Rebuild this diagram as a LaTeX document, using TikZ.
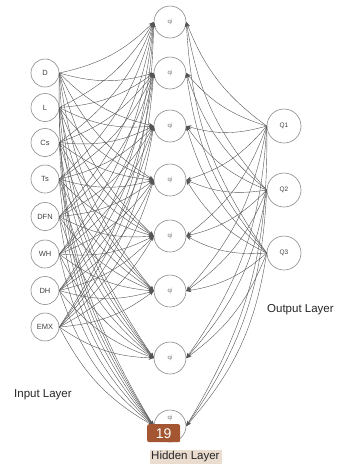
\documentclass[tikz,border=0pt]{standalone}
\usepackage{fontspec}
\setmainfont{Liberation Sans}
\usetikzlibrary{arrows.meta}
\definecolor{edgecol}{HTML}{555555}
\definecolor{circcol}{HTML}{8A8A8A}
\definecolor{badge}{HTML}{A35631}
\definecolor{beige}{HTML}{EBDCD0}
\tikzset{
  inp/.style={circle,draw=circcol,line width=0.6pt,minimum size=28pt,inner sep=0pt,font=\fontsize{7.5}{8}\selectfont,text=black!75},
  hid/.style={circle,draw=circcol,line width=0.6pt,minimum size=32pt,inner sep=0pt,font=\fontsize{6}{7}\selectfont,text=black!55},
  hidtxt/.style={inner sep=0pt,font=\fontsize{6}{7}\selectfont,text=black!55},
  outn/.style={circle,draw=circcol,line width=0.6pt,minimum size=34pt,inner sep=0pt,font=\fontsize{6.5}{7}\selectfont,text=black!75},
  edge/.style={draw=edgecol,line width=0.4pt,-{Stealth[length=5pt,width=4pt]}},
  lay/.style={font=\fontsize{11.5}{13}\selectfont,text=black!85,inner sep=0pt},
}
\begin{document}
\begin{tikzpicture}[x=1pt,y=-1pt]
\useasboundingbox (0,0) rectangle (337,464);
% input layer
\foreach \n/\y/\t in {1/73/D,2/107.5/L,3/142.5/Cs,4/179/Ts,5/216.5/DFN,6/254/WH,7/290.5/DH,8/327/EMX}
  \node[inp] (i\n) at (45,\y) {\t};
% hidden layer
\foreach \n/\y in {1/22,2/73,3/126,4/180,5/236,6/291,7/358}
  \node[hid] (h\n) at (170,\y) {qi};
\node[hid] (h8) at (170,426) {};
\node[hidtxt] (h8lab) at (170,418) {qi};
% output layer
\foreach \n/\y/\t in {1/126/Q1,2/190/Q2,3/253/Q3}
  \node[outn] (o\n) at (284,\y) {\t};
% connectors
\foreach \a in {1,...,8}
  \foreach \b in {1,...,8}
    \draw[edge] (i\a.east) to[bend right=16] (h\b.west);
\foreach \a in {1,...,3}
  \foreach \b in {1,...,8}
    \draw[edge] (o\a.west) to[bend left=16] (h\b.east);
% labels
\node[lay,anchor=west] (inlab) at (14,395) {Input Layer};
\node[lay,anchor=west] (outlab) at (267,310) {Output Layer};
\node[fill=beige,inner sep=0pt,minimum width=72pt,minimum height=14pt,anchor=north west] (hlbox) at (150,450) {};
\node[lay,anchor=west] (hidlab) at (151,457) {Hidden Layer};
% badge
\node[fill=badge,rounded corners=2pt,minimum width=33pt,minimum height=18pt,inner sep=0pt,anchor=north west,text=white,font=\fontsize{14}{16}\selectfont] (badge19) at (147,424) {19};
\end{tikzpicture}
\end{document}
